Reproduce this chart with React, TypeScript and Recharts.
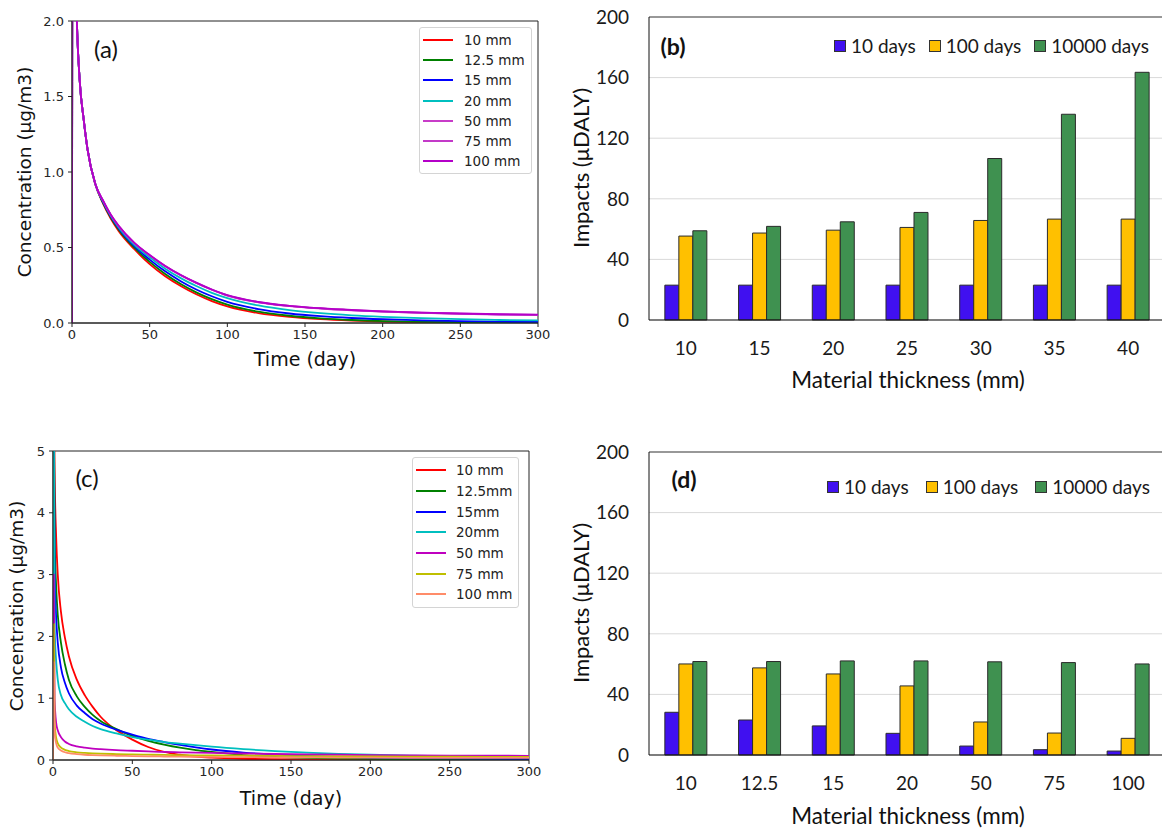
import {
  LineChart,
  Line,
  BarChart,
  Bar,
  XAxis,
  YAxis,
  CartesianGrid,
  ReferenceArea,
  ReferenceLine,
  Legend,
} from "recharts";

// time grid shared by both concentration panels (days)
const days = [0, 0.5, 1, 2, 3, 5, 7.5, 10, 15, 20, 25, 30, 40, 50, 60, 70, 80, 90, 100, 120, 140, 160, 180, 200, 225, 250, 275, 300];

// panel (a) concentration, µg/m3
const a10 = [0, 5, 3.4, 2.55, 2.05, 1.6, 1.35, 1.15, 0.92, 0.79, 0.69, 0.61, 0.49, 0.39, 0.31, 0.245, 0.19, 0.145, 0.11, 0.065, 0.04, 0.025, 0.016, 0.01, 0.006, 0.004, 0.002, 0.001];
const a125 = [0, 5, 3.4, 2.55, 2.05, 1.6, 1.35, 1.15, 0.92, 0.795, 0.698, 0.62, 0.5, 0.405, 0.325, 0.258, 0.203, 0.158, 0.122, 0.075, 0.048, 0.031, 0.02, 0.013, 0.008, 0.005, 0.003, 0.002];
const a15 = [0, 5, 3.4, 2.55, 2.05, 1.6, 1.35, 1.15, 0.92, 0.8, 0.705, 0.628, 0.51, 0.42, 0.342, 0.277, 0.222, 0.177, 0.14, 0.092, 0.063, 0.045, 0.033, 0.025, 0.018, 0.013, 0.009, 0.007];
const a20 = [0, 5, 3.4, 2.55, 2.05, 1.6, 1.35, 1.15, 0.92, 0.805, 0.71, 0.635, 0.52, 0.435, 0.36, 0.297, 0.245, 0.2, 0.165, 0.116, 0.085, 0.065, 0.051, 0.041, 0.032, 0.025, 0.02, 0.017];
const a50 = [0, 5, 3.4, 2.55, 2.05, 1.6, 1.35, 1.15, 0.92, 0.81, 0.715, 0.642, 0.53, 0.448, 0.376, 0.316, 0.265, 0.22, 0.182, 0.137, 0.112, 0.096, 0.084, 0.075, 0.067, 0.061, 0.056, 0.053];
const a75 = [0, 5, 3.4, 2.55, 2.05, 1.6, 1.35, 1.15, 0.92, 0.81, 0.716, 0.643, 0.531, 0.449, 0.377, 0.317, 0.266, 0.221, 0.183, 0.138, 0.113, 0.097, 0.085, 0.076, 0.068, 0.062, 0.057, 0.054];
const a100 = [0, 5, 3.4, 2.55, 2.05, 1.6, 1.35, 1.15, 0.92, 0.81, 0.717, 0.644, 0.532, 0.45, 0.378, 0.318, 0.267, 0.222, 0.184, 0.139, 0.114, 0.098, 0.086, 0.077, 0.069, 0.063, 0.058, 0.055];

// panel (c) concentration, µg/m3
const c10 = [0, 6, 4.7, 3.6, 3.0, 2.4, 1.98, 1.68, 1.3, 1.05, 0.86, 0.7, 0.48, 0.33, 0.21, 0.13, 0.085, 0.055, 0.038, 0.02, 0.012, 0.008, 0.006, 0.005, 0.004, 0.003, 0.003, 0.003];
const c125 = [0, 6, 3.7, 2.8, 2.35, 1.9, 1.55, 1.3, 1.03, 0.86, 0.73, 0.63, 0.5, 0.39, 0.31, 0.25, 0.2, 0.16, 0.13, 0.08, 0.052, 0.035, 0.024, 0.017, 0.012, 0.009, 0.007, 0.006];
const c15 = [0, 6, 3.1, 2.3, 1.9, 1.5, 1.25, 1.08, 0.88, 0.76, 0.66, 0.59, 0.49, 0.41, 0.34, 0.29, 0.245, 0.205, 0.17, 0.12, 0.088, 0.066, 0.05, 0.04, 0.031, 0.025, 0.021, 0.018];
const c20 = [0, 6, 2.2, 1.6, 1.3, 1.05, 0.92, 0.82, 0.7, 0.62, 0.55, 0.5, 0.43, 0.37, 0.33, 0.29, 0.265, 0.24, 0.215, 0.175, 0.145, 0.12, 0.1, 0.085, 0.072, 0.062, 0.055, 0.05];
const c50 = [0, 3, 1.0, 0.6, 0.48, 0.37, 0.3, 0.26, 0.22, 0.2, 0.185, 0.175, 0.16, 0.15, 0.14, 0.13, 0.125, 0.12, 0.115, 0.105, 0.097, 0.09, 0.085, 0.08, 0.075, 0.072, 0.07, 0.068];
const c75 = [0, 2.2, 0.6, 0.36, 0.27, 0.2, 0.165, 0.145, 0.125, 0.115, 0.108, 0.103, 0.096, 0.09, 0.086, 0.082, 0.079, 0.076, 0.074, 0.07, 0.066, 0.063, 0.06, 0.058, 0.055, 0.053, 0.051, 0.05];
const c100 = [0, 1.6, 0.45, 0.27, 0.2, 0.155, 0.125, 0.11, 0.095, 0.085, 0.079, 0.075, 0.069, 0.064, 0.06, 0.057, 0.054, 0.052, 0.05, 0.047, 0.044, 0.042, 0.04, 0.038, 0.036, 0.035, 0.034, 0.033];

const namesA = ["10 mm", "12.5 mm", "15 mm", "20 mm", "50 mm", "75 mm", "100 mm"];
const colorsA = ["#ff0000", "#008000", "#0000ff", "#00bfbf", "#c83cc8", "#c33ac8", "#b400c8"];
const namesC = ["10 mm", "12.5mm", "15mm", "20mm", "50 mm", "75 mm", "100 mm"];
const colorsC = ["#ff0000", "#008000", "#0000ff", "#00bfbf", "#bf00bf", "#bfbf00", "#ff8c69"];

const timeTicks = [0, 50, 100, 150, 200, 250, 300];
const ticksA = [0, 0.5, 1, 1.5, 2];
const ticksC = [0, 1, 2, 3, 4, 5];

// panels (b) and (d) impacts, µDALY
const seriesNames = ["10 days", "100 days", "10000 days"];
const barColors = ["#4010f0", "#ffc000", "#3f9150"];
const thickB = ["10", "15", "20", "25", "30", "35", "40"];
const b10 = [23, 23, 23, 23, 23, 23, 23];
const b100 = [55.4, 57.4, 59.3, 61.1, 65.7, 66.6, 66.6];
const b10000 = [58.9, 61.8, 64.8, 71, 106.6, 135.8, 163.5];
const thickD = ["10", "12.5", "15", "20", "50", "75", "100"];
const d10 = [28.2, 23.1, 19.2, 14.3, 5.9, 3.5, 2.6];
const d100 = [60.1, 57.5, 53.5, 45.6, 21.8, 14.5, 11];
const d10000 = [61.7, 61.7, 62.1, 62.1, 61.5, 61, 60.1];
const impactTicks = [0, 40, 80, 120, 160, 200];

const MPL = "'DejaVu Sans', sans-serif";
const XL = "Lato, 'Open Sans', sans-serif";

const lineRows = (series: number[][]) =>
  days.map((t, i) => {
    const row: Record<string, number> = { t };
    series.forEach((s, k) => (row["s" + k] = s[i]));
    return row;
  });

const barRows = (cats: string[], series: number[][]) =>
  cats.map((c, i) => ({ cat: c, v0: series[0][i], v1: series[1][i], v2: series[2][i] }));

function LineKey({ payload, rowH, textGap }: any) {
  return (
    <div
      style={{
        background: "#fff",
        border: "1px solid #d4d4d4",
        borderRadius: 3,
        padding: "2px 6px 2px 3px",
        fontFamily: MPL,
        fontSize: 13.5,
        color: "#222",
      }}
    >
      {(payload || []).map((p: any) => (
        <div key={p.value} style={{ display: "flex", alignItems: "center", height: rowH }}>
          <svg width={30} height={4} style={{ marginRight: textGap }}>
            <line x1={0} y1={2} x2={30} y2={2} stroke={p.color} strokeWidth={2} />
          </svg>
          <span>{p.value}</span>
        </div>
      ))}
    </div>
  );
}

function BarKey({ payload, gap }: any) {
  return (
    <div style={{ display: "flex", alignItems: "center", fontFamily: XL, fontSize: 19, color: "#1a1a1a" }}>
      {(payload || []).map((p: any) => (
        <div key={p.value} style={{ display: "flex", alignItems: "center", marginRight: gap }}>
          <span
            style={{
              width: 10,
              height: 10,
              background: p.color,
              border: "1px solid #333",
              marginRight: 5,
              display: "inline-block",
            }}
          />
          <span>{p.value}</span>
        </div>
      ))}
    </div>
  );
}

function Text({ x, y, size, font, rotate, weight, children }: any) {
  return (
    <div
      style={{
        position: "absolute",
        left: x,
        top: y,
        transform: `translate(-50%, -50%)${rotate ? " rotate(-90deg)" : ""}`,
        whiteSpace: "nowrap",
        fontFamily: font,
        fontSize: size,
        fontWeight: weight || 400,
        color: "#111",
        lineHeight: 1,
      }}
    >
      {children}
    </div>
  );
}

function ConcPanel({ box, margin, yWidth, data, names, colors, yMax, yTicks, fmt, legend }: any) {
  const tickStyle = { fontFamily: MPL, fontSize: 13, fill: "#262626" };
  return (
    <div style={{ position: "absolute", ...box }}>
      <LineChart width={box.width} height={box.height} data={data} margin={margin}>
        <XAxis
          type="number"
          dataKey="t"
          domain={[0, 300]}
          ticks={timeTicks}
          allowDataOverflow
          height={30}
          tick={tickStyle}
          tickSize={4}
          tickMargin={3}
          stroke="#222"
        />
        <YAxis
          type="number"
          domain={[0, yMax]}
          ticks={yTicks}
          allowDataOverflow
          width={yWidth}
          tick={tickStyle}
          tickSize={4}
          tickMargin={4}
          tickFormatter={fmt}
          stroke="#222"
        />
        <ReferenceArea x1={0} x2={300} y1={0} y2={yMax} fill="none" stroke="#222" strokeWidth={1} />
        {names.map((n: string, k: number) => (
          <Line
            key={n}
            type="monotone"
            dataKey={"s" + k}
            name={n}
            stroke={colors[k]}
            strokeWidth={1.8}
            dot={false}
            activeDot={false}
            isAnimationActive={false}
          />
        ))}
        <Legend
          layout="horizontal"
          verticalAlign="middle"
          align="center"
          itemSorter="dataKey"
          wrapperStyle={{ left: legend.left, top: legend.top, width: "auto" }}
          content={(props: any) => <LineKey {...props} rowH={legend.rowH} textGap={legend.textGap} />}
        />
      </LineChart>
    </div>
  );
}

function ImpactPanel({ box, margin, data, legend }: any) {
  const tickStyle = { fontFamily: XL, fontSize: 19, fill: "#1a1a1a" };
  return (
    <div style={{ position: "absolute", ...box }}>
      <BarChart
        width={box.width}
        height={box.height}
        data={data}
        margin={margin}
        barCategoryGap="21.5%"
        barGap={0}
      >
        <CartesianGrid vertical={false} stroke="#d9d9d9" />
        <XAxis
          dataKey="cat"
          height={40}
          tick={tickStyle}
          tickLine={false}
          tickMargin={16}
          axisLine={{ stroke: "#111" }}
        />
        <YAxis
          domain={[0, 200]}
          ticks={impactTicks}
          width={50}
          tick={tickStyle}
          tickLine={false}
          tickMargin={14}
          axisLine={{ stroke: "#111" }}
        />
        <ReferenceLine y={200} stroke="#444" />
        {seriesNames.map((n, k) => (
          <Bar
            key={n}
            dataKey={"v" + k}
            name={n}
            fill={barColors[k]}
            stroke="#2b2b2b"
            strokeWidth={1}
            isAnimationActive={false}
          />
        ))}
        <Legend
          layout="horizontal"
          verticalAlign="middle"
          align="center"
          itemSorter="dataKey"
          wrapperStyle={{ left: legend.left, top: legend.top, width: "auto" }}
          content={(props: any) => <BarKey {...props} gap={legend.gap} />}
        />
      </BarChart>
    </div>
  );
}

export default function App() {
  const dataA = lineRows([a10, a125, a15, a20, a50, a75, a100]);
  const dataC = lineRows([c10, c125, c15, c20, c50, c75, c100]);
  const dataB = barRows(thickB, [b10, b100, b10000]);
  const dataD = barRows(thickD, [d10, d100, d10000]);

  return (
    <div
      style={{
        position: "absolute",
        left: 0,
        top: 0,
        width: 1162,
        height: 828,
        overflow: "hidden",
        background: "#fff",
      }}
    >
      <ConcPanel
        box={{ left: 0, top: 0, width: 560, height: 380 }}
        margin={{ top: 21, right: 22, bottom: 27, left: 32 }}
        yWidth={40}
        data={dataA}
        names={namesA}
        colors={colorsA}
        yMax={2}
        yTicks={ticksA}
        fmt={(v: number) => v.toFixed(1)}
        legend={{ left: 419, top: 27, rowH: 20.2, textGap: 11 }}
      />
      <ConcPanel
        box={{ left: 0, top: 430, width: 560, height: 398 }}
        margin={{ top: 21, right: 31, bottom: 38, left: 23 }}
        yWidth={30}
        data={dataC}
        names={namesC}
        colors={colorsC}
        yMax={5}
        yTicks={ticksC}
        fmt={(v: number) => String(v)}
        legend={{ left: 412, top: 27, rowH: 20.7, textGap: 10 }}
      />
      <ImpactPanel
        box={{ left: 560, top: 0, width: 620, height: 400 }}
        margin={{ top: 17, right: 15, bottom: 40, left: 39 }}
        data={dataB}
        legend={{ left: 274, top: 34, gap: 13 }}
      />
      <ImpactPanel
        box={{ left: 560, top: 430, width: 620, height: 398 }}
        margin={{ top: 22, right: 15, bottom: 33, left: 39 }}
        data={dataD}
        legend={{ left: 267, top: 45, gap: 17 }}
      />

      <Text x={106} y={49} size={24} font={XL}>(a)</Text>
      <Text x={87} y={478} size={24} font={XL}>(c)</Text>
      <Text x={673} y={46} size={23} font={XL} weight={700}>(b)</Text>
      <Text x={684} y={479} size={23} font={XL} weight={700}>(d)</Text>

      <Text x={25} y={172} size={18.5} font={MPL} rotate>Concentration (μg/m3)</Text>
      <Text x={305} y={359} size={19} font={MPL}>Time (day)</Text>
      <Text x={17} y={606} size={18.5} font={MPL} rotate>Concentration (μg/m3)</Text>
      <Text x={291} y={798} size={19} font={MPL}>Time (day)</Text>

      <Text x={581} y={168} size={22} font={XL} rotate>Impacts (μDALY)</Text>
      <Text x={908} y={380} size={22.5} font={XL}>Material thickness (mm)</Text>
      <Text x={581} y={603} size={22} font={XL} rotate>Impacts (μDALY)</Text>
      <Text x={908} y={816} size={22.5} font={XL}>Material thickness (mm)</Text>
    </div>
  );
}
